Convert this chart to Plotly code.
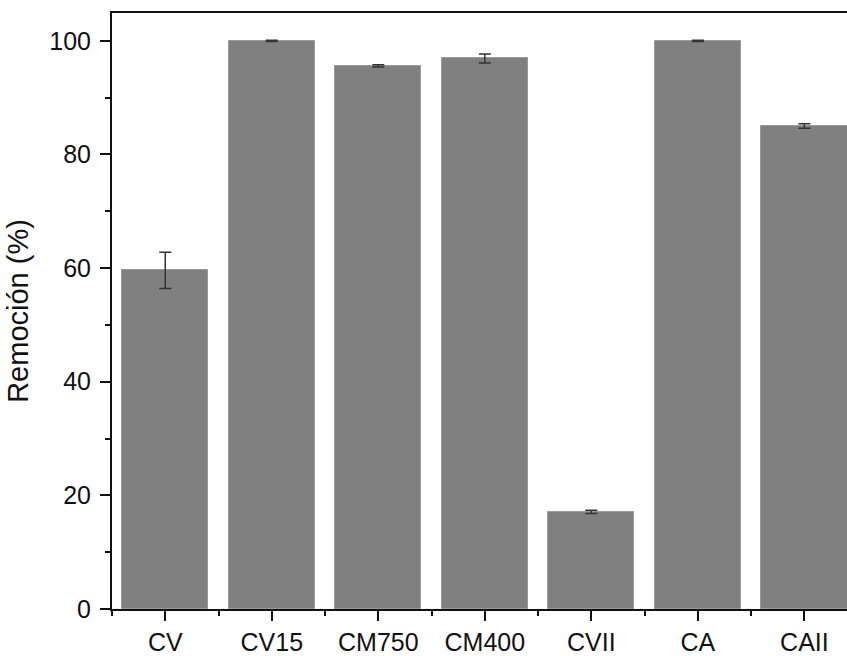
import plotly.graph_objects as go

# Removal percentage per material, with standard deviation
categories = ["CV", "CV15", "CM750", "CM400", "CVII", "CA", "CAII"]
removal = [59.6, 100.0, 95.6, 96.9, 17.1, 100.0, 85.0]
removal_err = [3.2, 0.1, 0.2, 0.8, 0.3, 0.1, 0.4]
y_ticks = [0, 20, 40, 60, 80, 100]

x_pos = list(range(len(categories)))

fig = go.Figure()
fig.add_trace(go.Bar(
    x=x_pos,
    y=removal,
    width=0.81,
    marker=dict(color="#808080", line=dict(color="#9a9a9a", width=1)),
    error_y=dict(type="data", array=removal_err, visible=True,
                 color="#333333", thickness=1.5, width=6),
    showlegend=False,
))

axis_font = dict(family="Arial, Liberation Sans, sans-serif", size=25, color="#111111")

fig.update_layout(
    width=847,
    height=656,
    margin=dict(l=112, r=0, t=13, b=42),
    paper_bgcolor="white",
    plot_bgcolor="white",
    bargap=0,
    xaxis=dict(
        range=[-0.5, 6.40],
        tickmode="array",
        tickvals=x_pos,
        ticktext=categories,
        ticks="outside",
        ticklen=10,
        tickwidth=2,
        tickcolor="#111111",
        showline=True,
        linecolor="#111111",
        linewidth=2,
        mirror=True,
        showgrid=False,
        zeroline=False,
        tickfont=axis_font,
        minor=dict(tickmode="linear", tick0=0.5, dtick=1, ticks="outside",
                   ticklen=5, tickwidth=2, tickcolor="#111111", showgrid=False),
    ),
    yaxis=dict(
        range=[0, 104.9],
        tickmode="array",
        tickvals=y_ticks,
        ticks="outside",
        ticklen=10,
        tickwidth=2,
        tickcolor="#111111",
        showline=True,
        linecolor="#111111",
        linewidth=2,
        showgrid=False,
        zeroline=False,
        tickfont=axis_font,
        ticklabelstandoff=4,
        minor=dict(tickmode="linear", tick0=10, dtick=20, ticks="outside",
                   ticklen=5, tickwidth=2, tickcolor="#111111", showgrid=False),
        title=dict(text="Remoción (%)",
                   font=dict(family="Arial, Liberation Sans, sans-serif", size=29, color="#111111"),
                   standoff=12),
    ),
)

fig.write_html("out.html")
